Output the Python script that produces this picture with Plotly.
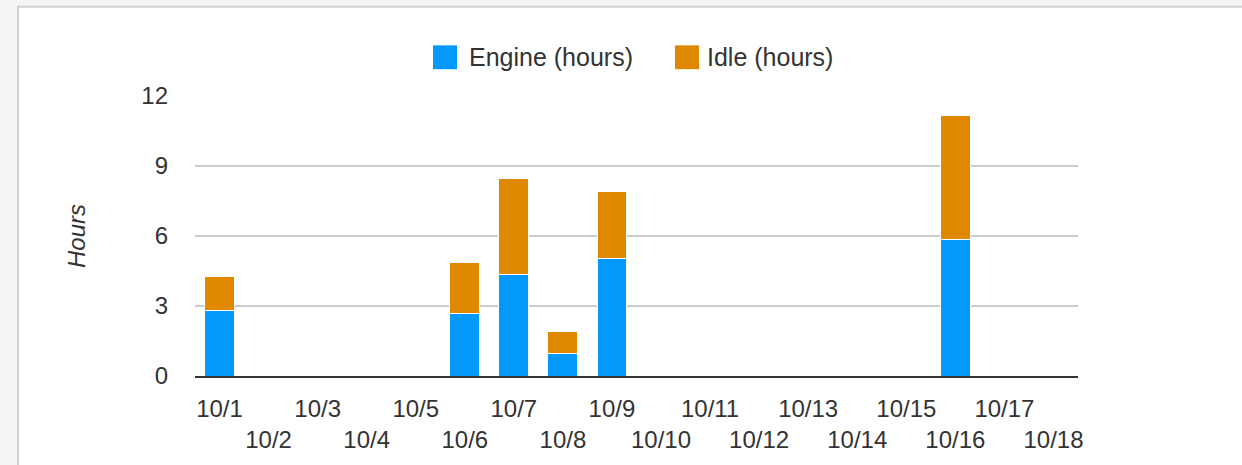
import plotly.graph_objects as go

# ---- data ----
dates = ["10/1", "10/2", "10/3", "10/4", "10/5", "10/6", "10/7", "10/8", "10/9",
         "10/10", "10/11", "10/12", "10/13", "10/14", "10/15", "10/16", "10/17", "10/18"]
engine_hours = [2.8, 0, 0, 0, 0, 2.7, 4.35, 0.95, 5.05, 0, 0, 0, 0, 0, 0, 5.83, 0, 0]
idle_hours = [1.45, 0, 0, 0, 0, 2.15, 4.1, 0.95, 2.85, 0, 0, 0, 0, 0, 0, 5.33, 0, 0]
y_ticks = [0, 3, 6, 9, 12]
series_names = ["Engine (hours)", "Idle (hours)"]
series_colors = ["#0399fc", "#e08800"]

W, H = 1242, 465
L, R, T, B = 195, 1078, 96, 378   # plot area in pixels
PW, PH = R - L, B - T


def px(x):
    return (x - L) / PW


def py(y):
    return (B - y) / PH


FONT = "Arial, 'Liberation Sans', sans-serif"
FS = 24

fig = go.Figure()
for name, vals, col in zip(series_names, [engine_hours, idle_hours], series_colors):
    fig.add_trace(go.Bar(
        x=dates, y=vals, name=name,
        marker=dict(color=col, line=dict(color="white", width=1)),
        showlegend=False,
    ))

# staggered tick labels: odd on first row, even on second
ticktext = [d if i % 2 == 0 else "<br>" + d for i, d in enumerate(dates)]

shapes = [
    # page frame
    dict(type="rect", xref="paper", yref="paper",
         x0=px(18), x1=px(W + 20), y0=py(H + 20), y1=py(6),
         fillcolor="white", line=dict(color="#d2d2d2", width=2), layer="below"),
]
annotations = []
# legend (squares + labels)
leg_sq_x = [433, 675]
leg_tx_x = [467, 705]
for name, col, sx, tx in zip(series_names, series_colors, leg_sq_x, leg_tx_x):
    shapes.append(dict(type="rect", xref="paper", yref="paper",
                       x0=px(sx), x1=px(sx + 24), y0=py(69), y1=py(45),
                       fillcolor=col, line=dict(width=0), layer="above"))
    annotations.append(dict(xref="paper", yref="paper", x=px(tx), y=py(57),
                            xanchor="left", yanchor="middle", showarrow=False,
                            text=name, font=dict(family=FONT, size=25, color="#333333")))

fig.update_layout(
    width=W, height=H,
    margin=dict(l=L, r=W - R, t=T, b=H - B),
    paper_bgcolor="#f5f5f5",
    plot_bgcolor="white",
    barmode="stack",
    bargap=0.39,
    font=dict(family=FONT, size=FS, color="#333333"),
    shapes=shapes,
    annotations=annotations,
    xaxis=dict(
        type="category", tickvals=dates, ticktext=ticktext,
        range=[-0.5, len(dates) - 0.5],
        showgrid=False, showline=True, linecolor="#333333", linewidth=2,
        ticks="", tickangle=0, ticklabelstandoff=10,
        tickfont=dict(family=FONT, size=FS, color="#333333"),
        fixedrange=True,
    ),
    yaxis=dict(
        range=[0, 12], tickvals=y_ticks, ticktext=[str(v) for v in y_ticks],
        showgrid=True, gridcolor="#cccccc", gridwidth=2,
        zeroline=False, showline=False, ticks="", ticklabelstandoff=26,
        tickfont=dict(family=FONT, size=FS, color="#333333"),
        title=dict(text="<i>Hours</i>", standoff=48,
                   font=dict(family=FONT, size=FS, color="#333333")),
        fixedrange=True,
    ),
)

fig.write_html(
    "out.html",
    config={"displayModeBar": False},
    post_script="document.body.style.margin='0';document.body.style.background='#f5f5f5';",
)
